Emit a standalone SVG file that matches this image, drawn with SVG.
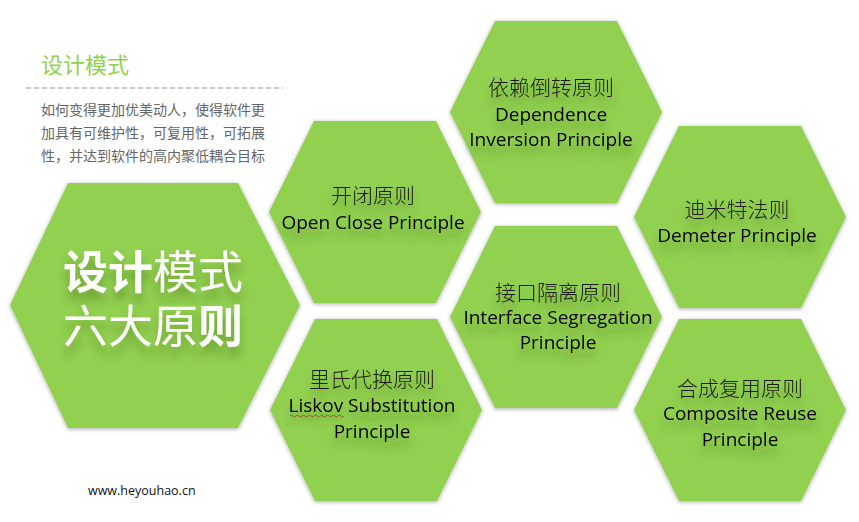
<svg xmlns="http://www.w3.org/2000/svg" width="859" height="522" viewBox="0 0 859 522">
<defs>
<style>
.hexfill{fill:#92D050;}
.cn{font-family:"Noto Sans CJK SC","Noto Sans",sans-serif;font-size:21px;fill:#1a1a1a;text-anchor:middle;font-weight:300;}
.en{font-family:"Open Sans","Noto Sans",sans-serif;font-size:19px;fill:#000;text-anchor:middle;}
.lbl{filter:url(#tshadow);}
.para{font-family:"Noto Sans CJK SC","Noto Sans",sans-serif;font-size:14px;fill:#666;}
.big{font-family:"Noto Sans CJK SC","Noto Sans",sans-serif;font-size:45px;fill:#fff;}
</style>
<filter id="hshadow" x="-10%" y="-10%" width="120%" height="120%">
<feDropShadow dx="0" dy="1" stdDeviation="2" flood-color="#000" flood-opacity="0.35"/>
</filter>
<filter id="tshadow" x="-20%" y="-30%" width="140%" height="200%">
<feDropShadow dx="0" dy="9" stdDeviation="4" flood-color="#2f4a0c" flood-opacity="0.35"/>
</filter>
<polygon id="hex" points="-61,-91 61,-91 106,0 61,91 -61,91 -106,0"/>
</defs>
<rect width="859" height="522" fill="#fff"/>

<g id="intro">
<text x="41" y="73" font-family="Noto Sans CJK SC, sans-serif" font-size="22" fill="#92D050">设计模式</text>
<line x1="26" y1="88" x2="283" y2="88" stroke="#999" stroke-width="1" stroke-dasharray="5,3"/>
<text class="para" x="41" y="115">如何变得更加优美动人，使得软件更</text>
<text class="para" x="41" y="138">加具有可维护性，可复用性，可拓展</text>
<text class="para" x="41" y="161">性，并达到软件的高内聚低耦合目标</text>
</g>

<g id="main">
<polygon class="hexfill" filter="url(#hshadow)" points="68,183 238,183 300,305 238,428 68,428 10,305"/>
<g filter="url(#tshadow)">
<text class="big" x="63" y="289"><tspan font-weight="bold">设计</tspan>模式</text>
<text class="big" x="63" y="343">六大原<tspan font-weight="bold">则</tspan></text>
</g>
</g>

<g id="open-close">
<use href="#hex" class="hexfill" filter="url(#hshadow)" transform="translate(375,212)"/>
<g class="lbl">
<text class="cn" x="373" y="203">开闭原则</text>
<text class="en" x="373" y="229">Open Close Principle</text>
</g>
</g>

<g id="dependence-inversion">
<use href="#hex" class="hexfill" filter="url(#hshadow)" transform="translate(556,112)"/>
<g class="lbl">
<text class="cn" x="551" y="95">依赖倒转原则</text>
<text class="en" x="551" y="121">Dependence</text>
<text class="en" x="551" y="146">Inversion Principle</text>
</g>
</g>

<g id="liskov">
<use href="#hex" class="hexfill" filter="url(#hshadow)" transform="translate(376,410)"/>
<g class="lbl">
<text class="cn" x="372" y="387">里氏代换原则</text>
<text class="en" x="372" y="412">Liskov Substitution</text>
<text class="en" x="372" y="438">Principle</text>
</g>
<path d="M290,416 q1.5,-2 3,0 t3,0 t3,0 t3,0 t3,0 t3,0 t3,0 t3,0 t3,0 t3,0 t3,0 t3,0 t3,0 t3,0 t3,0 t3,0 t3,0 t3,0" fill="none" stroke="#e02020" stroke-width="0.8"/>
</g>

<g id="interface-segregation">
<use href="#hex" class="hexfill" filter="url(#hshadow)" transform="translate(556,317)"/>
<g class="lbl">
<text class="cn" x="558" y="300">接口隔离原则</text>
<text class="en" x="558" y="324">Interface Segregation</text>
<text class="en" x="558" y="349">Principle</text>
</g>
</g>

<g id="demeter">
<use href="#hex" class="hexfill" filter="url(#hshadow)" transform="translate(740,217)"/>
<g class="lbl">
<text class="cn" x="737" y="217">迪米特法则</text>
<text class="en" x="737" y="242">Demeter Principle</text>
</g>
</g>

<g id="composite-reuse">
<use href="#hex" class="hexfill" filter="url(#hshadow)" transform="translate(740,410)"/>
<g class="lbl">
<text class="cn" x="740" y="396">合成复用原则</text>
<text class="en" x="740" y="420">Composite Reuse</text>
<text class="en" x="740" y="446">Principle</text>
</g>
</g>

<g id="connectors"/>

<g id="footer">
<text x="88" y="495" font-family="Open Sans, sans-serif" font-size="12.5" fill="#111">www.heyouhao.cn</text>
</g>
</svg>
